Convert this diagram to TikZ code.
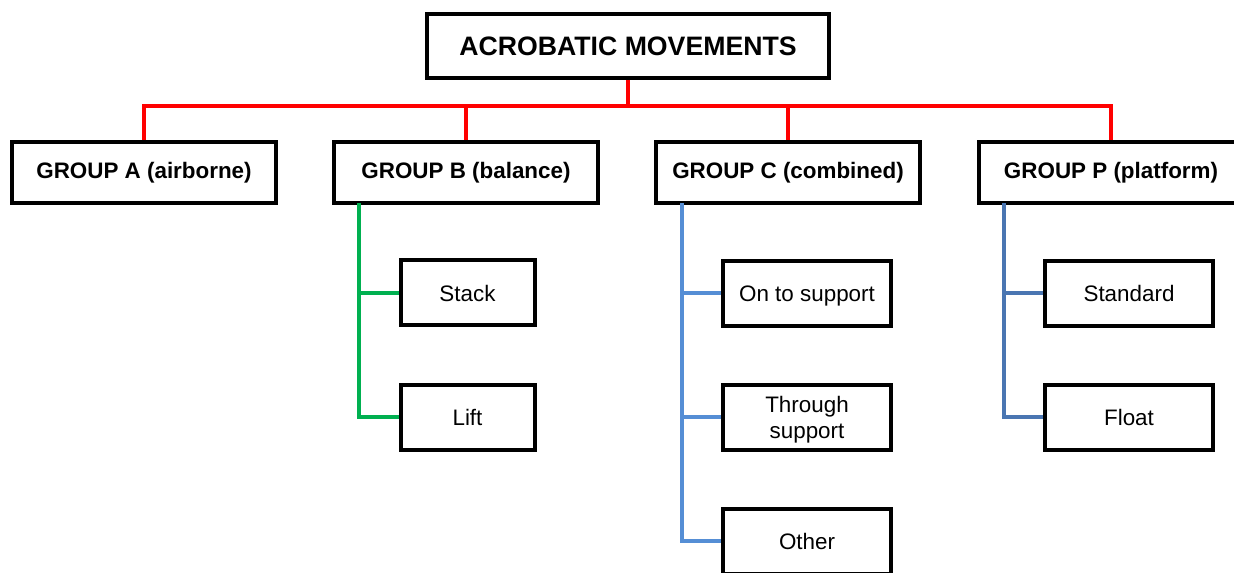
\documentclass[tikz,border=0pt]{standalone}
\usepackage{fontspec}
\setmainfont{Liberation Sans}
\usetikzlibrary{positioning}
\definecolor{linkred}{RGB}{255,0,0}
\definecolor{linkgreen}{RGB}{0,176,80}
\definecolor{linkblue}{RGB}{85,142,213}
\definecolor{linkdarkblue}{RGB}{74,118,178}
\tikzstyle{title} = [rectangle, text centered, draw=black, line width=3pt, fill=white, inner sep=0pt, minimum width=402*0.75pt, minimum height=64*0.75pt, font=\bfseries\fontsize{20}{24}\selectfont]
\tikzstyle{group} = [rectangle, text centered, draw=black, line width=3pt, fill=white, inner sep=0pt, minimum width=264*0.75pt, minimum height=61*0.75pt, font=\bfseries\fontsize{16.8}{20}\selectfont]
\tikzstyle{item} = [rectangle, align=center, draw=black, line width=3pt, fill=white, inner sep=0pt, text depth=0pt, minimum height=65*0.75pt, font=\fontsize{16.8}{19.5}\selectfont]
\tikzstyle{top_link} = [line width=3.2pt, linkred]
\tikzstyle{b_link} = [line width=3pt, linkgreen]
\tikzstyle{c_link} = [line width=3pt, linkblue]
\tikzstyle{p_link} = [line width=3pt, linkdarkblue]

\begin{document}
\begin{tikzpicture}[x=0.75pt, y=-0.75pt]

    % page border: 1234 x 573 pixels
    \useasboundingbox (0, 0) rectangle (1234, 573);

    \node (acro) [title] at (628, 46) {ACROBATIC MOVEMENTS};

    \node (groupa) [group] at (144, 172.5) {GROUP A (airborne)};
    \node (groupb) [group] at (466, 172.5) {GROUP B (balance)};
    \node (groupc) [group] at (788, 172.5) {GROUP C (combined)};
    \node (groupp) [group] at (1111, 172.5) {GROUP P (platform)};

    \node (stack) [item, minimum width=134*0.75pt] at (467.5, 293) {Stack};
    \node (lift) [item, minimum width=134*0.75pt] at (467.5, 417) {Lift};

    \node (onto) [item, minimum width=168*0.75pt] at (807, 293.5) {On to support};
    \node (through) [item, minimum width=168*0.75pt] at (807, 417) {Through\\support};
    \node (other) [item, minimum width=168*0.75pt] at (807, 541) {Other};

    \node (standard) [item, minimum width=168*0.75pt] at (1129, 293.5) {Standard};
    \node (float) [item, minimum width=168*0.75pt] at (1129, 417) {Float};

    % red bus under the title
    \coordinate (bus) at (628, 106);

    \draw [top_link] (acro.south) -- (bus);
    \draw [top_link] (groupa.north) |- (bus);
    \draw [top_link] (groupb.north) |- (bus);
    \draw [top_link] (groupc.north) |- (bus);
    \draw [top_link] (groupp.north) |- (bus);

    % trunks hanging from the group boxes
    \coordinate (btrunk) at (359, 203);
    \coordinate (ctrunk) at (682, 203);
    \coordinate (ptrunk) at (1004, 203);

    \draw [b_link] (btrunk) |- (lift.west);
    \draw [b_link] (stack.west) -- (stack.west -| btrunk);

    \draw [c_link] (ctrunk) |- (other.west);
    \draw [c_link] (onto.west) -- (onto.west -| ctrunk);
    \draw [c_link] (through.west) -- (through.west -| ctrunk);

    \draw [p_link] (ptrunk) |- (float.west);
    \draw [p_link] (standard.west) -- (standard.west -| ptrunk);

\end{tikzpicture}
\end{document}
